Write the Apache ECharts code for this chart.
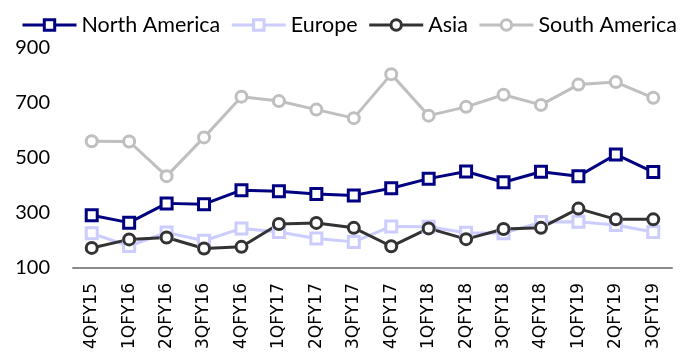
<!DOCTYPE html>
<html>
<head>
    <meta charset="utf-8">
    <title>Regional trend</title>
    <script src="https://cdn.jsdelivr.net/npm/echarts@6/dist/echarts.min.js"></script>
    <style>
        html, body { margin: 0; padding: 0; background: #fff; }
        #chart { width: 683px; height: 360px; }
    </style>
</head>
<body>
<div id="chart"></div>
<script>
    var categories = ['4QFY15', '1QFY16', '2QFY16', '3QFY16', '4QFY16', '1QFY17', '2QFY17', '3QFY17',
        '4QFY17', '1QFY18', '2QFY18', '3QFY18', '4QFY18', '1QFY19', '2QFY19', '3QFY19'];
    var northAmerica = [292, 265, 335, 332, 383, 379, 369, 364, 390, 425, 451, 412, 450, 434, 513, 449];
    var europe = [226, 180, 229, 199, 244, 231, 207, 195, 251, 250, 228, 226, 267, 268, 256, 231];
    var asia = [173, 204, 211, 171, 177, 260, 264, 246, 179, 244, 205, 242, 246, 316, 277, 277];
    var southAmerica = [561, 560, 434, 575, 723, 707, 676, 645, 805, 654, 686, 730, 693, 767, 776, 719];
    var yTicks = { min: 100, max: 900, step: 200 };

    function lineSeries(name, data, color, symbol) {
        return {
            name: name,
            type: 'line',
            data: data,
            symbol: symbol,
            symbolSize: 11,
            showAllSymbol: true,
            lineStyle: { color: color, width: 3 },
            itemStyle: { color: '#fff', borderColor: color, borderWidth: 3 },
            emphasis: { disabled: true }
        };
    }

    var chart = echarts.init(document.getElementById('chart'));
    var option = {
        animation: false,
        legend: {
            left: 21,
            right: 0,
            top: 14,
            padding: 0,
            itemWidth: 54,
            itemHeight: 13,
            itemGap: 10,
            lineStyle: { width: 3 },
            itemStyle: { borderWidth: 3 },
            textStyle: { fontFamily: 'Lato', fontSize: 21.5, color: '#000' },
            data: ['North America', 'Europe', 'Asia', 'South America']
        },
        grid: {
            left: 73,
            right: 11,
            top: 48,
            bottom: 92
        },
        xAxis: {
            type: 'category',
            data: categories,
            axisLine: { lineStyle: { color: '#8c8c8c', width: 2 } },
            axisTick: { show: false },
            axisLabel: {
                interval: 0,
                rotate: 90,
                margin: 15,
                fontFamily: 'DejaVu Sans',
                fontSize: 17,
                color: '#000'
            }
        },
        yAxis: {
            type: 'value',
            min: yTicks.min,
            max: yTicks.max,
            interval: yTicks.step,
            splitLine: { show: false },
            axisLine: { show: false },
            axisTick: { show: false },
            axisLabel: {
                margin: 23,
                fontFamily: 'Lato',
                fontSize: 20,
                color: '#000'
            }
        },
        series: [
            lineSeries('North America', northAmerica, '#000080', 'rect'),
            lineSeries('Europe', europe, '#ccccff', 'rect'),
            lineSeries('Asia', asia, '#333333', 'circle'),
            lineSeries('South America', southAmerica, '#bfbfbf', 'circle')
        ]
    };
    chart.setOption(option);
</script>
</body>
</html>
